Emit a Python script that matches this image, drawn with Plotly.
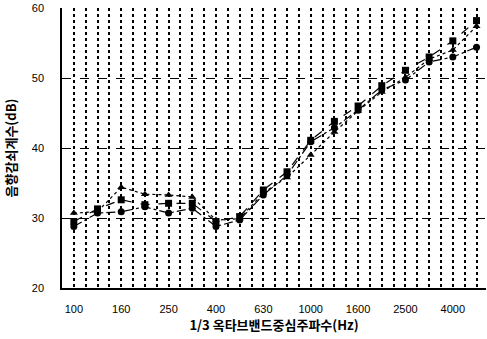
import plotly.graph_objects as go

bands = ["100", "125", "160", "200", "250", "315", "400", "500", "630", "800",
         "1000", "1250", "1600", "2000", "2500", "3150", "4000", "5000"]
label_bands = ["100", "160", "250", "400", "630", "1000", "1600", "2500", "4000"]

series_square = [29.5, 31.3, 32.6, 31.9, 32.1, 32.1, 29.5, 30.2, 34.0, 36.6,
                 41.1, 43.8, 46.0, 48.9, 51.1, 53.0, 55.3, 58.2]
series_circle = [28.8, 30.7, 30.9, 31.6, 30.7, 31.4, 28.8, 29.7, 33.3, 36.1,
                 40.9, 42.9, 45.4, 48.3, 49.7, 52.3, 53.0, 54.4]
series_triangle = [30.7, 30.9, 34.4, 33.4, 33.3, 33.0, 29.7, 29.9, 33.6, 35.8,
                   39.0, 42.3, 45.3, 48.0, 50.1, 52.7, 54.0, 57.4]

x_idx = list(range(len(bands)))

fig = go.Figure()
styles = [
    (series_square, "square", "dash"),
    (series_circle, "circle", "dashdot"),
    (series_triangle, "triangle-up", "dot"),
]
for vals, sym, dash in styles:
    fig.add_trace(go.Scatter(
        x=x_idx, y=vals, mode="lines+markers",
        line=dict(color="black", width=1.2, dash=dash),
        marker=dict(symbol=sym, size=7, color="black"),
        showlegend=False, cliponaxis=False,
    ))

# grid positions at every band and every half band
grid_pos = [i * 0.5 for i in range(0, 2 * len(bands))]
grid_text = []
for p in grid_pos:
    if p == int(p) and bands[int(p)] in label_bands:
        grid_text.append(bands[int(p)])
    else:
        grid_text.append("")

tick_font = dict(family="Liberation Sans", size=11, color="black")

fig.update_layout(
    width=487, height=339,
    margin=dict(l=62, r=1, t=8, b=51, autoexpand=False),
    paper_bgcolor="white", plot_bgcolor="white",
    xaxis=dict(
        range=[-0.5, 17.4], automargin=False,
        tickmode="array", tickvals=grid_pos, ticktext=grid_text,
        showgrid=True, gridcolor="black", gridwidth=1.5, griddash="dot",
        showline=True, linecolor="black", linewidth=1.5,
        ticks="", tickfont=tick_font, ticklabelstandoff=10,
        zeroline=False,
        title=dict(text="<b>1/3 옥타브밴드중심주파수(Hz)</b>",
                   font=dict(family="Noto Sans CJK KR", size=13, color="black"),
                   standoff=6),
    ),
    yaxis=dict(
        range=[20, 60], automargin=False,
        tickmode="array", tickvals=[20, 30, 40, 50, 60],
        showgrid=False,
        minor=dict(tickvals=[30, 40, 50], showgrid=True, gridcolor="black",
                   gridwidth=1, griddash="dash", ticks=""),
        showline=True, linecolor="black", linewidth=1.5,
        ticks="", tickfont=tick_font, ticklabelstandoff=14,
        zeroline=False,
        title=dict(text="<b>음향감쇠계수(dB)</b>",
                   font=dict(family="Noto Sans CJK KR", size=13, color="black"),
                   standoff=12),
    ),
)

fig.write_html("out.html", config={"displayModeBar": False},
               post_script="document.body.style.margin='0px';document.body.style.overflow='hidden';")
